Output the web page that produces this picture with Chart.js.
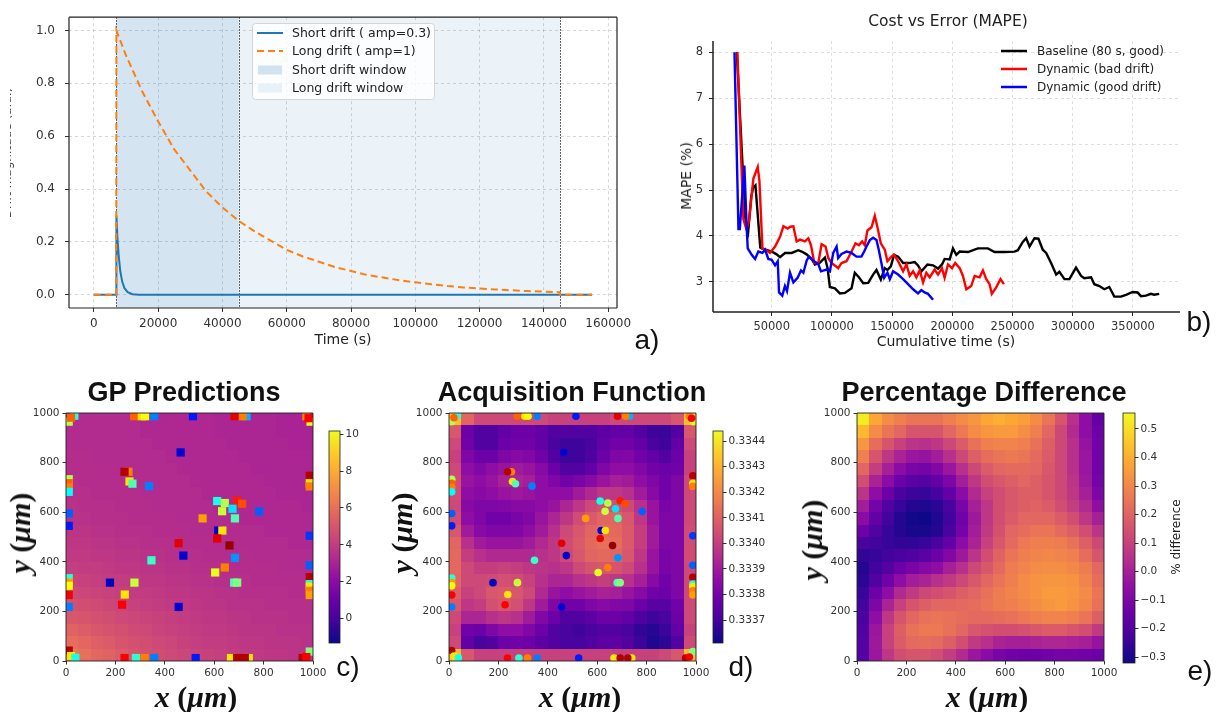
<!DOCTYPE html>
<html>
<head>
<meta charset="utf-8">
<script src="https://cdn.jsdelivr.net/npm/chart.js@4.4.1/dist/chart.umd.min.js"></script>
<style>
body{margin:0;width:1220px;height:712px;background:#fff;position:relative;overflow:hidden;font-family:"DejaVu Sans",sans-serif;color:#222}
canvas{position:absolute}
.t{position:absolute;white-space:nowrap;transform:translate(-50%,-50%);line-height:1}
.rot{transform:translate(-50%,-50%) rotate(-90deg)}
.clip{position:absolute;overflow:hidden}
.ttl{font:bold 27px "Liberation Sans",Arial,sans-serif;color:#111}
.mat{font:bold 30px "Liberation Serif",serif;color:#111}
.mat i{font-style:italic}
.lab{font:28px "Liberation Sans",Arial,sans-serif;color:#111}
</style>
</head>
<body>
<canvas id="drift" style="left:0;top:0" width="660" height="340"></canvas>
<canvas id="cost" style="left:660px;top:28px" width="540" height="307"></canvas>
<canvas id="gp" style="left:20px;top:400px" width="320" height="285"></canvas>
<canvas id="gpBar" style="left:320px;top:420px" width="60" height="235"></canvas>
<canvas id="acq" style="left:403px;top:400px" width="320" height="285"></canvas>
<canvas id="acqBar" style="left:704px;top:420px" width="75" height="235"></canvas>
<canvas id="diff" style="left:810px;top:400px" width="320" height="285"></canvas>
<canvas id="diffBar" style="left:1114px;top:402px" width="60" height="272"></canvas>

<div class="clip" style="left:10px;top:0;width:5px;height:300px"><div class="t rot" style="left:-3px;top:153px;font-size:12px;color:#444">Drift magnitude (a.u.)</div></div>
<div class="t" style="left:343px;top:339px;font-size:14px">Time (s)</div>
<div class="t lab" style="left:647px;top:340px">a)</div>

<div class="t" style="left:948px;top:22px;font-size:15.5px">Cost vs Error (MAPE)</div>
<div class="t rot" style="left:686px;top:176px;font-size:14px">MAPE (%)</div>
<div class="t" style="left:946px;top:341px;font-size:14px">Cumulative time (s)</div>
<div class="t lab" style="left:1199px;top:322px">b)</div>

<div class="t ttl" style="left:184px;top:392px">GP Predictions</div>
<div class="t ttl" style="left:572px;top:392px">Acquisition Function</div>
<div class="t ttl" style="left:984px;top:392px">Percentage Difference</div>

<div class="t mat" style="left:196px;top:697px"><i>x</i> (<i>μm</i>)</div>
<div class="t mat" style="left:580px;top:697px"><i>x</i> (<i>μm</i>)</div>
<div class="t mat" style="left:987px;top:697px"><i>x</i> (<i>μm</i>)</div>
<div class="t mat rot" style="left:20px;top:533px"><i>y</i> (<i>μm</i>)</div>
<div class="clip" style="left:389px;top:440px;width:40px;height:200px"><div class="t mat rot" style="left:13px;top:93px"><i>y</i> (<i>μm</i>)</div></div>
<div class="t mat rot" style="left:812px;top:540px"><i>y</i> (<i>μm</i>)</div>
<div class="t rot" style="left:1176px;top:537px;font-size:12px">% difference</div>

<div class="t lab" style="left:348px;top:667px">c)</div>
<div class="t lab" style="left:741px;top:667px">d)</div>
<div class="t lab" style="left:1200px;top:671px">e)</div>

<script>
// ---------- a) drift profiles ----------
const shortTime = [0, 6950, 7000, 7300, 7700, 8200, 8800, 9500, 10500, 12000, 14000, 155000];
const shortDrift = [0, 0, 0.30, 0.22, 0.15, 0.09, 0.05, 0.025, 0.01, 0.002, 0, 0];
const longTime = [0, 6950, 7000, 10000, 15000, 20000, 25000, 30000, 35000, 40000, 45000, 50000,
  55000, 60000, 65000, 70000, 75000, 80000, 85000, 90000, 95000, 100000, 105000, 110000,
  115000, 120000, 125000, 130000, 135000, 140000, 145000, 145050, 155000];
const longDrift = [0, 0, 1.0, 0.905, 0.77, 0.655, 0.55, 0.47, 0.39, 0.33, 0.28, 0.24,
  0.205, 0.17, 0.145, 0.125, 0.105, 0.09, 0.075, 0.065, 0.055, 0.047, 0.04, 0.033,
  0.028, 0.024, 0.02, 0.017, 0.014, 0.012, 0.01, 0, 0];
const shortWindow = [7000, 45000];
const longWindow = [7000, 145000];
const driftTicksX = [0, 20000, 40000, 60000, 80000, 100000, 120000, 140000, 160000];
const driftTicksY = [0, 0.2, 0.4, 0.6, 0.8, 1.0];

// ---------- b) cost vs error ----------
const baseTime = [21000, 28000, 30500, 33000, 34500, 36500, 38000, 40500, 41700, 50000, 54100, 56900,
  61000, 66600, 72100, 74900, 79000, 83100, 85900, 90000, 94200, 96400, 98300, 102500, 106600,
  110800, 116300, 119000, 122400, 126000, 130100, 134200, 137000, 140600, 143900, 146100, 148900,
  151600, 155000, 159100, 163800, 168800, 171500, 174300, 179300, 184000, 188100, 191400, 193600,
  197800, 200500, 203300, 206100, 213000, 221200, 229500, 235100, 243300, 251600, 254400, 258500,
  261300, 264100, 268200, 271500, 275100, 277900, 282000, 286200, 288900, 293100, 297200, 302700,
  306900, 309600, 315200, 317900, 322100, 326200, 330300, 334500, 340000, 344200, 349700, 353800,
  356600, 360700, 364900, 367600, 371800];
const baseMape = [8.0, 4.4, 4.1, 4.85, 5.05, 5.1, 4.6, 3.75, 3.73, 3.66, 3.6, 3.54,
  3.63, 3.63, 3.69, 3.66, 3.6, 3.5, 3.38, 3.42, 3.53, 3.3, 2.89, 2.86, 2.75,
  2.76, 2.86, 3.2, 3.1, 2.97, 2.98, 3.16, 3.26, 3.05, 3.3, 3.26, 3.34,
  3.59, 3.55, 3.41, 3.41, 3.43, 3.36, 3.23, 3.38, 3.36, 3.29, 3.38, 3.5,
  3.49, 3.73, 3.59, 3.66, 3.65, 3.73, 3.73, 3.65, 3.65, 3.66, 3.69, 3.87,
  3.95, 3.77, 3.95, 3.94, 3.7, 3.63, 3.41, 3.16, 3.22, 3.06, 3.06, 3.31,
  3.13, 3.08, 3.1, 2.95, 2.91, 2.84, 2.89, 2.68, 2.68, 2.72, 2.78, 2.77,
  2.69, 2.7, 2.74, 2.72, 2.74];
const badTime = [21500, 26500, 29000, 31000, 34800, 38400, 39800, 42300, 45000, 48600, 52800, 56900,
  59700, 63300, 65400, 68000, 70700, 73500, 77600, 80400, 82600, 85400, 88700, 91400, 94700,
  97000, 99700, 103300, 105200, 108000, 112100, 116300, 119600, 122400, 125100, 127300, 129500,
  132900, 135600, 137800, 140600, 143900, 146100, 149400, 151600, 155000, 159100, 161900, 164600,
  167400, 170100, 172900, 175700, 178400, 181200, 185300, 188100, 191400, 193600, 196400, 199700,
  202400, 206100, 208800, 211600, 215700, 218500, 222600, 225400, 228200, 230900, 232800, 236400,
  240000, 242800];
const badMape = [8.0, 4.36, 4.15, 4.3, 5.25, 5.5, 5.2, 3.73, 3.7, 3.63, 3.77, 3.98,
  4.21, 4.16, 4.2, 4.21, 3.88, 3.92, 3.88, 3.95, 3.8, 3.41, 3.41, 3.82, 3.77,
  3.52, 3.41, 3.34, 3.3, 3.41, 3.45, 3.66, 3.84, 3.8, 3.88, 3.8, 4.12,
  4.19, 4.44, 4.19, 3.84, 3.7, 3.45, 3.55, 3.59, 3.45, 3.23, 3.38, 3.13,
  3.23, 3.1, 3.25, 2.99, 3.2, 3.1, 3.27, 3.16, 3.3, 3.09, 3.38, 3.3,
  3.41, 3.3, 3.13, 2.84, 2.91, 3.13, 3.1, 3.25, 3.06, 2.95, 2.74, 2.88,
  3.06, 2.95];
const goodTime = [19100, 22400, 23500, 27300, 29300, 30100, 33400, 36200, 38900, 42300, 44500, 47200,
  50000, 52800, 55000, 56100, 58800, 61000, 62700, 65200, 68000, 71500, 74300, 76300, 79000,
  80900, 84500, 88700, 90900, 95600, 98300, 101100, 103900, 105200, 108000, 112100, 116300,
  120400, 124500, 126800, 128700, 131500, 134200, 137000, 138900, 141100, 143400, 146100, 148100,
  150800, 155000, 159100, 163200, 167400, 171500, 174300, 177000, 179800, 184000];
const goodMape = [8.0, 4.15, 4.15, 5.53, 4.15, 3.73, 3.59, 3.5, 3.66, 3.63, 3.7, 3.5,
  3.48, 3.36, 3.45, 2.77, 2.7, 2.91, 2.8, 3.2, 2.99, 3.09, 3.25, 3.2, 3.46,
  3.55, 3.46, 3.39, 3.23, 3.27, 3.23, 3.63, 3.77, 3.52, 3.61, 3.66, 3.63,
  3.55, 3.55, 3.66, 3.77, 3.91, 3.96, 3.91, 3.7, 3.41, 3.09, 3.2, 3.06,
  3.23, 3.16, 3.06, 2.95, 2.84, 2.75, 2.82, 2.77, 2.74, 2.61];
const costTicksX = [50000, 100000, 150000, 200000, 250000, 300000, 350000];
const costTicksY = [3, 4, 5, 6, 7, 8];

// ---------- c) d) e) maps, 20x20 cells, rows listed from y=1000 down to y=0 ----------
const mapExtent = [0, 1000];
const mapTicks = [0, 200, 400, 600, 800, 1000];
const gpGrid = [
  [3.3,3.3,3.3,3.3,3.3,3.3,3.2,3.2,3.2,3.2,3.2,3.2,3.1,3.1,3.1,3.1,3.1,3.0,3.0,3.0],
  [3.3,3.3,3.3,3.3,3.3,3.3,3.2,3.2,3.2,3.2,3.2,3.2,3.1,3.1,3.1,3.1,3.1,3.0,3.0,3.0],
  [3.3,3.3,3.3,3.3,3.3,3.3,3.3,3.2,3.2,3.2,3.2,3.2,3.2,3.1,3.1,3.1,3.1,3.1,3.0,3.0],
  [3.4,3.4,3.3,3.3,3.3,3.3,3.3,3.3,3.2,3.2,3.2,3.2,3.2,3.2,3.1,3.1,3.1,3.1,3.1,3.1],
  [3.4,3.4,3.4,3.4,3.3,3.3,3.3,3.3,3.3,3.2,3.2,3.2,3.2,3.2,3.2,3.1,3.1,3.1,3.1,3.1],
  [3.5,3.4,3.4,3.4,3.4,3.3,3.3,3.3,3.3,3.3,3.2,3.2,3.2,3.2,3.2,3.2,3.1,3.1,3.1,3.1],
  [3.5,3.5,3.4,3.4,3.4,3.4,3.3,3.3,3.3,3.3,3.3,3.2,3.2,3.2,3.2,3.2,3.2,3.1,3.1,3.1],
  [3.6,3.5,3.5,3.5,3.4,3.4,3.4,3.3,3.3,3.3,3.3,3.3,3.2,3.2,3.2,3.2,3.2,3.2,3.2,3.1],
  [3.6,3.6,3.5,3.5,3.5,3.4,3.4,3.4,3.4,3.3,3.3,3.3,3.3,3.3,3.2,3.2,3.2,3.2,3.2,3.2],
  [3.7,3.7,3.6,3.6,3.5,3.5,3.5,3.4,3.4,3.4,3.3,3.3,3.3,3.3,3.3,3.3,3.2,3.2,3.2,3.2],
  [3.8,3.8,3.7,3.7,3.6,3.6,3.5,3.5,3.5,3.4,3.4,3.4,3.3,3.3,3.3,3.3,3.3,3.3,3.2,3.2],
  [3.9,3.9,3.8,3.8,3.7,3.7,3.6,3.6,3.5,3.5,3.5,3.4,3.4,3.4,3.4,3.3,3.3,3.3,3.3,3.3],
  [4.1,4.0,4.0,3.9,3.8,3.8,3.7,3.7,3.6,3.6,3.5,3.5,3.5,3.4,3.4,3.4,3.4,3.3,3.3,3.3],
  [4.3,4.2,4.1,4.0,4.0,3.9,3.8,3.8,3.7,3.7,3.6,3.6,3.5,3.5,3.5,3.4,3.4,3.4,3.4,3.4],
  [4.5,4.4,4.3,4.2,4.1,4.0,4.0,3.9,3.8,3.8,3.7,3.7,3.6,3.6,3.5,3.5,3.5,3.5,3.4,3.4],
  [4.8,4.7,4.6,4.4,4.3,4.2,4.1,4.0,3.9,3.9,3.8,3.7,3.7,3.6,3.6,3.6,3.5,3.5,3.5,3.5],
  [5.1,5.0,4.8,4.7,4.5,4.4,4.3,4.2,4.1,4.0,3.9,3.8,3.8,3.7,3.7,3.6,3.6,3.6,3.5,3.5],
  [5.5,5.3,5.1,4.9,4.8,4.6,4.5,4.3,4.2,4.1,4.0,3.9,3.9,3.8,3.7,3.7,3.7,3.6,3.6,3.6],
  [5.9,5.7,5.4,5.2,5.0,4.8,4.7,4.5,4.4,4.2,4.1,4.0,4.0,3.9,3.8,3.8,3.7,3.7,3.7,3.6],
  [6.3,6.0,5.7,5.5,5.2,5.0,4.8,4.7,4.5,4.4,4.3,4.2,4.1,4.0,3.9,3.9,3.8,3.8,3.7,3.7]
];
const acqGrid = [
  [0.33432,0.33411,0.33403,0.33403,0.33403,0.33403,0.33403,0.33403,0.33401,0.33401,0.33401,0.33401,0.33401,0.33403,0.33403,0.33403,0.33403,0.33403,0.33407,0.33432],
  [0.33407,0.33378,0.33373,0.33373,0.33376,0.33378,0.33378,0.33376,0.33373,0.33373,0.33373,0.33373,0.33375,0.33376,0.33376,0.33373,0.33369,0.33368,0.33373,0.33407],
  [0.33403,0.33379,0.33373,0.33373,0.33378,0.33379,0.33379,0.33376,0.33371,0.33369,0.33369,0.33371,0.33376,0.33379,0.33379,0.33376,0.33371,0.33369,0.33376,0.33403],
  [0.33401,0.33382,0.33378,0.33378,0.33382,0.33384,0.33383,0.33379,0.33373,0.33369,0.33369,0.33372,0.33378,0.33382,0.33383,0.33379,0.33376,0.33373,0.33378,0.33401],
  [0.33403,0.33386,0.33383,0.33386,0.33388,0.33390,0.33388,0.33384,0.33378,0.33373,0.33373,0.33376,0.33382,0.33386,0.33386,0.33383,0.33379,0.33378,0.33379,0.33401],
  [0.33404,0.33388,0.33386,0.33388,0.33392,0.33393,0.33391,0.33386,0.33382,0.33379,0.33381,0.33384,0.33388,0.33391,0.33390,0.33386,0.33382,0.33379,0.33382,0.33403],
  [0.33404,0.33386,0.33384,0.33386,0.33388,0.33389,0.33388,0.33386,0.33386,0.33386,0.33390,0.33394,0.33398,0.33398,0.33396,0.33390,0.33384,0.33379,0.33382,0.33403],
  [0.33403,0.33384,0.33382,0.33382,0.33383,0.33384,0.33384,0.33386,0.33388,0.33393,0.33398,0.33403,0.33405,0.33405,0.33403,0.33396,0.33388,0.33381,0.33382,0.33403],
  [0.33404,0.33386,0.33382,0.33379,0.33379,0.33381,0.33383,0.33388,0.33393,0.33398,0.33404,0.33408,0.33411,0.33411,0.33407,0.33398,0.33388,0.33382,0.33382,0.33403],
  [0.33407,0.33390,0.33384,0.33382,0.33382,0.33383,0.33386,0.33390,0.33396,0.33403,0.33407,0.33411,0.33413,0.33412,0.33408,0.33400,0.33390,0.33382,0.33382,0.33404],
  [0.33411,0.33396,0.33390,0.33388,0.33388,0.33388,0.33390,0.33394,0.33398,0.33404,0.33408,0.33412,0.33414,0.33413,0.33408,0.33400,0.33390,0.33382,0.33382,0.33404],
  [0.33412,0.33400,0.33396,0.33394,0.33394,0.33394,0.33394,0.33396,0.33398,0.33403,0.33407,0.33411,0.33412,0.33411,0.33407,0.33398,0.33388,0.33381,0.33382,0.33404],
  [0.33412,0.33403,0.33400,0.33400,0.33401,0.33400,0.33398,0.33397,0.33396,0.33398,0.33403,0.33406,0.33407,0.33406,0.33403,0.33396,0.33388,0.33381,0.33382,0.33403],
  [0.33411,0.33403,0.33403,0.33404,0.33405,0.33404,0.33401,0.33396,0.33393,0.33393,0.33396,0.33398,0.33400,0.33398,0.33396,0.33391,0.33384,0.33379,0.33382,0.33403],
  [0.33409,0.33401,0.33403,0.33407,0.33408,0.33407,0.33403,0.33394,0.33388,0.33386,0.33388,0.33390,0.33392,0.33391,0.33388,0.33384,0.33379,0.33378,0.33382,0.33403],
  [0.33407,0.33398,0.33400,0.33405,0.33407,0.33405,0.33398,0.33390,0.33382,0.33379,0.33379,0.33382,0.33384,0.33383,0.33382,0.33378,0.33374,0.33374,0.33379,0.33403],
  [0.33403,0.33393,0.33393,0.33396,0.33398,0.33396,0.33390,0.33383,0.33378,0.33373,0.33373,0.33375,0.33378,0.33378,0.33376,0.33372,0.33369,0.33371,0.33378,0.33403],
  [0.33401,0.33379,0.33378,0.33382,0.33386,0.33386,0.33382,0.33378,0.33373,0.33371,0.33369,0.33371,0.33373,0.33373,0.33371,0.33367,0.33365,0.33368,0.33376,0.33401],
  [0.33403,0.33376,0.33371,0.33373,0.33378,0.33379,0.33378,0.33375,0.33373,0.33371,0.33371,0.33373,0.33375,0.33375,0.33373,0.33368,0.33364,0.33366,0.33373,0.33403],
  [0.33432,0.33407,0.33401,0.33401,0.33401,0.33401,0.33401,0.33401,0.33401,0.33401,0.33401,0.33401,0.33401,0.33401,0.33401,0.33401,0.33401,0.33403,0.33407,0.33432]
];
const diffGrid = [
  [0.53,0.38,0.31,0.28,0.25,0.25,0.25,0.28,0.31,0.34,0.38,0.40,0.38,0.36,0.31,0.25,0.16,0.05,-0.06,-0.16],
  [0.42,0.31,0.25,0.21,0.16,0.16,0.16,0.21,0.26,0.31,0.34,0.35,0.35,0.32,0.28,0.21,0.12,0.03,-0.06,-0.14],
  [0.34,0.23,0.16,0.10,0.06,0.05,0.07,0.12,0.18,0.24,0.28,0.29,0.29,0.28,0.24,0.19,0.12,0.05,-0.04,-0.13],
  [0.28,0.16,0.07,0.01,-0.03,-0.04,-0.01,0.05,0.12,0.19,0.23,0.25,0.26,0.25,0.22,0.18,0.12,0.05,-0.03,-0.13],
  [0.21,0.09,0.00,-0.07,-0.11,-0.12,-0.09,-0.03,0.05,0.12,0.18,0.21,0.22,0.22,0.21,0.17,0.12,0.05,-0.03,-0.13],
  [0.14,0.01,-0.07,-0.14,-0.18,-0.19,-0.16,-0.10,-0.01,0.07,0.14,0.17,0.19,0.21,0.19,0.16,0.12,0.06,-0.02,-0.12],
  [0.06,-0.06,-0.14,-0.21,-0.24,-0.25,-0.22,-0.16,-0.07,0.03,0.10,0.14,0.17,0.19,0.19,0.16,0.12,0.07,0.00,-0.10],
  [-0.01,-0.12,-0.20,-0.25,-0.28,-0.29,-0.27,-0.21,-0.11,0.00,0.07,0.14,0.17,0.19,0.20,0.18,0.14,0.09,0.03,-0.06],
  [-0.07,-0.16,-0.23,-0.28,-0.31,-0.32,-0.29,-0.23,-0.13,-0.02,0.07,0.14,0.18,0.21,0.21,0.21,0.18,0.14,0.07,0.00],
  [-0.14,-0.20,-0.25,-0.28,-0.30,-0.30,-0.28,-0.21,-0.12,-0.01,0.08,0.15,0.21,0.23,0.25,0.25,0.22,0.19,0.14,0.06],
  [-0.21,-0.23,-0.25,-0.26,-0.26,-0.25,-0.21,-0.16,-0.07,0.01,0.10,0.17,0.22,0.26,0.28,0.28,0.27,0.24,0.19,0.12],
  [-0.26,-0.25,-0.23,-0.21,-0.20,-0.18,-0.14,-0.09,-0.02,0.06,0.14,0.20,0.25,0.28,0.29,0.30,0.29,0.28,0.23,0.16],
  [-0.28,-0.23,-0.19,-0.14,-0.11,-0.08,-0.06,0.00,0.05,0.12,0.17,0.22,0.27,0.29,0.31,0.32,0.32,0.30,0.27,0.21],
  [-0.27,-0.20,-0.13,-0.06,-0.01,0.01,0.05,0.08,0.12,0.17,0.21,0.25,0.28,0.31,0.33,0.34,0.34,0.33,0.29,0.23],
  [-0.25,-0.14,-0.06,0.03,0.08,0.12,0.14,0.16,0.19,0.21,0.24,0.27,0.29,0.31,0.33,0.35,0.35,0.34,0.31,0.25],
  [-0.23,-0.10,0.01,0.10,0.16,0.19,0.21,0.21,0.22,0.23,0.25,0.27,0.28,0.30,0.32,0.34,0.35,0.33,0.30,0.24],
  [-0.21,-0.06,0.07,0.16,0.21,0.24,0.25,0.24,0.23,0.22,0.22,0.23,0.24,0.26,0.28,0.29,0.29,0.28,0.25,0.19],
  [-0.20,-0.03,0.10,0.19,0.24,0.26,0.26,0.24,0.21,0.17,0.15,0.14,0.14,0.15,0.17,0.18,0.18,0.16,0.14,0.08],
  [-0.19,-0.02,0.10,0.18,0.22,0.23,0.22,0.19,0.14,0.08,0.05,0.01,0.00,0.00,0.01,0.02,0.02,0.01,0.00,-0.04],
  [-0.19,-0.03,0.07,0.14,0.16,0.16,0.14,0.09,0.03,-0.03,-0.07,-0.11,-0.13,-0.14,-0.14,-0.13,-0.12,-0.12,-0.13,-0.14]
];
const gpRange = [-1.33, 10.18];
const acqRange = [0.33361, 0.33444];
const diffRange = [-0.32, 0.556];
const gpBarTicks = [0, 2, 4, 6, 8, 10];
const acqBarTicks = [0.3337, 0.3338, 0.3339, 0.3340, 0.3341, 0.3342, 0.3343, 0.3344];
const diffBarTicks = [-0.3, -0.2, -0.1, 0.0, 0.1, 0.2, 0.3, 0.4, 0.5];

// measured sample locations (µm) and their colour level (0..1 on jet)
const sampleX = [464, 253, 237, 257, 269, 336, 612, 643, 693, 713, 674, 632, 782, 553, 684, 616, 633, 612, 662, 456,
  475, 684, 346, 643, 604, 178, 277, 681, 693, 238, 227, 456,
  276, 307, 320, 357, 514, 731, 715, 682, 11, 34, 20, 990, 973, 982,
  11, 11, 11, 11, 11, 11, 11, 11, 11, 11, 11, 11, 20, 38,
  987, 987, 987, 987, 987, 987, 987, 987, 987, 987, 987, 958, 973,
  237, 283, 318, 357, 525, 668, 693, 740, 724];
const sampleY = [841, 763, 763, 724, 715, 705, 645, 637, 646, 634, 614, 604, 603, 575, 575, 526, 526, 494, 466, 475,
  425, 416, 406, 377, 357, 316, 316, 316, 316, 268, 227, 218,
  987, 987, 987, 987, 987, 987, 987, 987, 965, 989, 981, 965, 987, 979,
  733, 717, 700, 682, 595, 545, 334, 316, 303, 266, 218, 42, 20, 13,
  747, 717, 704, 505, 386, 338, 310, 300, 283, 266, 38, 12, 16,
  12, 12, 12, 12, 12, 12, 12, 12, 12];
const sampleLevel = [0.08, 0.75, 0.95, 0.65, 0.45, 0.25, 0.4, 0.55, 0.85, 0.8, 0.35, 0.57, 0.22, 0.72, 0.45, 0.08, 0.65, 0.9, 0.98, 0.9,
  0.08, 0.27, 0.43, 0.75, 0.6, 0.06, 0.57, 0.45, 0.5, 0.65, 0.88, 0.08,
  0.78, 0.65, 0.62, 0.25, 0.15, 0.3, 0.75, 0.9, 0.55, 0.42, 0.78, 0.6, 0.75, 0.88,
  0.55, 0.78, 0.75, 0.38, 0.22, 0.15, 0.42, 0.72, 0.62, 0.88, 0.25, 0.95, 0.65, 0.4,
  0.95, 0.65, 0.75, 0.18, 0.22, 0.95, 0.4, 0.65, 0.75, 0.72, 0.5, 0.95, 0.88,
  0.88, 0.42, 0.75, 0.25, 0.15, 0.65, 0.95, 0.65, 0.95];

// ---------- colour maps ----------
const plasmaStops = ['#0d0887', '#41049d', '#6a00a8', '#8f0da4', '#b12a90', '#cc4778',
  '#e16462', '#f2844b', '#fca636', '#fcce25', '#f0f921'];
function hexRgb(h) {
  return [parseInt(h.slice(1, 3), 16), parseInt(h.slice(3, 5), 16), parseInt(h.slice(5, 7), 16)];
}
function plasma(t) {
  t = Math.min(1, Math.max(0, t));
  const p = t * 10, i = Math.min(9, Math.floor(p)), f = p - i;
  const a = hexRgb(plasmaStops[i]), b = hexRgb(plasmaStops[i + 1]);
  return 'rgb(' + a.map((v, k) => Math.round(v + (b[k] - v) * f)).join(',') + ')';
}
function jet(t) {
  const c = v => Math.round(255 * Math.min(1, Math.max(0, v)));
  return 'rgb(' + c(1.5 - Math.abs(4 * t - 3)) + ',' + c(1.5 - Math.abs(4 * t - 2)) + ',' + c(1.5 - Math.abs(4 * t - 1)) + ')';
}

// ---------- helpers ----------
Chart.defaults.font.family = '"DejaVu Sans", sans-serif';
Chart.defaults.color = '#333';

function fixWidth(w) { return s => { s.width = w; }; }
function fixHeight(h) { return s => { s.height = h; }; }
function useTicks(values) { return s => { s.ticks = values.map(v => ({ value: v })); }; }
function pairs(xs, ys) { return xs.map((x, i) => ({ x: x, y: ys[i] })); }

function framePlugin(sides, color, width) {
  return {
    id: 'frame',
    afterDatasetsDraw(chart) {
      const { ctx, chartArea: a } = chart;
      ctx.save();
      ctx.strokeStyle = color;
      ctx.lineWidth = width;
      ctx.beginPath();
      if (sides.includes('l')) { ctx.moveTo(a.left, a.top); ctx.lineTo(a.left, a.bottom); }
      if (sides.includes('b')) { ctx.moveTo(a.left, a.bottom); ctx.lineTo(a.right, a.bottom); }
      if (sides.includes('r')) { ctx.moveTo(a.right, a.top); ctx.lineTo(a.right, a.bottom); }
      if (sides.includes('t')) { ctx.moveTo(a.left, a.top); ctx.lineTo(a.right, a.top); }
      ctx.stroke();
      ctx.restore();
    }
  };
}

function heatPlugin(grid, range) {
  return {
    id: 'heat',
    beforeDatasetsDraw(chart) {
      const { ctx, scales: { x, y } } = chart;
      const rows = grid.length, cols = grid[0].length;
      const span = mapExtent[1] - mapExtent[0];
      grid.forEach((row, r) => row.forEach((v, c) => {
        const x0 = Math.round(x.getPixelForValue(mapExtent[0] + c * span / cols));
        const x1 = Math.round(x.getPixelForValue(mapExtent[0] + (c + 1) * span / cols));
        const y0 = Math.round(y.getPixelForValue(mapExtent[1] - r * span / rows));
        const y1 = Math.round(y.getPixelForValue(mapExtent[1] - (r + 1) * span / rows));
        ctx.fillStyle = plasma((v - range[0]) / (range[1] - range[0]));
        ctx.fillRect(x0, y0, x1 - x0, y1 - y0);
      }));
    }
  };
}

function barPlugin(range) {
  return {
    id: 'cbar',
    beforeDatasetsDraw(chart) {
      const { ctx, chartArea: a, scales: { y } } = chart;
      for (let py = Math.floor(a.top); py < a.bottom; py++) {
        const v = y.getValueForPixel(py + 0.5);
        ctx.fillStyle = plasma((v - range[0]) / (range[1] - range[0]));
        ctx.fillRect(a.left, py, a.right - a.left, 1);
      }
      ctx.save();
      ctx.strokeStyle = '#222';
      ctx.lineWidth = 0.8;
      ctx.strokeRect(a.left, a.top, a.right - a.left, a.bottom - a.top);
      ctx.restore();
    }
  };
}

const tickFont = { size: 12 };

// ---------- a) ----------
const windowsPlugin = {
  id: 'windows',
  beforeDatasetsDraw(chart) {
    const { ctx, chartArea: a, scales: { x } } = chart;
    ctx.save();
    ctx.fillStyle = 'rgba(31,119,180,0.09)';
    ctx.fillRect(x.getPixelForValue(longWindow[0]), a.top,
      x.getPixelForValue(longWindow[1]) - x.getPixelForValue(longWindow[0]), a.bottom - a.top);
    ctx.fillStyle = 'rgba(31,119,180,0.11)';
    ctx.fillRect(x.getPixelForValue(shortWindow[0]), a.top,
      x.getPixelForValue(shortWindow[1]) - x.getPixelForValue(shortWindow[0]), a.bottom - a.top);
    ctx.strokeStyle = '#333';
    ctx.lineWidth = 1;
    ctx.setLineDash([1.5, 1.5]);
    [shortWindow[0], shortWindow[1], longWindow[1]].forEach(v => {
      const px = Math.round(x.getPixelForValue(v)) + 0.5;
      ctx.beginPath();
      ctx.moveTo(px, a.top);
      ctx.lineTo(px, a.bottom);
      ctx.stroke();
    });
    ctx.restore();
  }
};

const legendA = {
  id: 'legendA',
  afterDraw(chart) {
    const ctx = chart.ctx;
    const ds = chart.data.datasets;
    ctx.save();
    ctx.beginPath();
    ctx.roundRect(252.5, 23.5, 182, 76, 3);
    ctx.fillStyle = 'rgba(255,255,255,0.8)';
    ctx.fill();
    ctx.strokeStyle = '#d4d4d4';
    ctx.lineWidth = 1;
    ctx.stroke();
    const rows = [33, 51, 70, 88];
    ctx.lineWidth = 2;
    ctx.strokeStyle = ds[0].borderColor;
    ctx.beginPath(); ctx.moveTo(257, rows[0]); ctx.lineTo(283, rows[0]); ctx.stroke();
    ctx.strokeStyle = ds[1].borderColor;
    ctx.setLineDash(ds[1].borderDash);
    ctx.beginPath(); ctx.moveTo(257, rows[1]); ctx.lineTo(283, rows[1]); ctx.stroke();
    ctx.setLineDash([]);
    ctx.fillStyle = 'rgba(31,119,180,0.19)';
    ctx.fillRect(258, rows[2] - 4.5, 24, 9);
    ctx.fillStyle = 'rgba(31,119,180,0.09)';
    ctx.fillRect(258, rows[3] - 4.5, 24, 9);
    ctx.fillStyle = '#222';
    ctx.font = '12.5px "DejaVu Sans"';
    ctx.textBaseline = 'middle';
    [ds[0].label, ds[1].label, 'Short drift window', 'Long drift window'].forEach((s, i) => {
      ctx.fillText(s, 292, rows[i] + 1);
    });
    ctx.restore();
  }
};

new Chart(document.getElementById('drift'), {
  type: 'line',
  data: {
    datasets: [
      { label: 'Short drift ( amp=0.3)', data: pairs(shortTime, shortDrift), borderColor: '#1f77b4',
        borderWidth: 2, pointRadius: 0, order: 2 },
      { label: 'Long drift ( amp=1)', data: pairs(longTime, longDrift), borderColor: '#ff7f0e',
        borderWidth: 2, borderDash: [7, 4], pointRadius: 0, order: 1 }
    ]
  },
  options: {
    responsive: false, animation: false, events: [],
    layout: { padding: { left: 0, top: 15, right: 43, bottom: 7 } },
    plugins: { legend: { display: false }, tooltip: { enabled: false } },
    scales: {
      x: {
        type: 'linear', min: -7750, max: 162750, afterFit: fixHeight(25),
        afterBuildTicks: useTicks(driftTicksX),
        ticks: { autoSkip: false, maxRotation: 0, padding: 5,
          font: tickFont, color: '#333', callback: v => String(v) },
        grid: { color: 'rgba(0,0,0,0.16)', tickColor: '#333', tickLength: 4 },
        border: { display: false, dash: [3, 3] }
      },
      y: {
        min: -0.05, max: 1.05, afterFit: fixWidth(69),
        afterBuildTicks: useTicks(driftTicksY),
        ticks: { autoSkip: false, padding: 10, font: tickFont, color: '#333',
          callback: v => v.toFixed(1) },
        grid: { color: 'rgba(0,0,0,0.16)', tickColor: '#333', tickLength: 4 },
        border: { display: false, dash: [3, 3] }
      }
    }
  },
  plugins: [windowsPlugin, framePlugin('lbrt', '#222', 1.2), legendA]
});

// ---------- b) ----------
const legendB = {
  id: 'legendB',
  afterDraw(chart) {
    const ctx = chart.ctx;
    const ds = chart.data.datasets;
    const rows = [23, 41, 59];
    ctx.save();
    ctx.font = '12px "DejaVu Sans"';
    ctx.textBaseline = 'middle';
    ds.forEach((d, i) => {
      ctx.strokeStyle = d.borderColor;
      ctx.lineWidth = 2.5;
      ctx.beginPath(); ctx.moveTo(341, rows[i]); ctx.lineTo(367, rows[i]); ctx.stroke();
      ctx.fillStyle = '#222';
      ctx.fillText(d.label, 377, rows[i] + 1);
    });
    ctx.restore();
  }
};

const gridB = { color: 'rgba(0,0,0,0.13)', tickColor: '#222', tickLength: 4 };
new Chart(document.getElementById('cost'), {
  type: 'line',
  data: {
    datasets: [
      { label: 'Baseline (80 s, good)', data: pairs(baseTime, baseMape), borderColor: '#000000',
        borderWidth: 2.4, pointRadius: 0, order: 3 },
      { label: 'Dynamic (bad drift)', data: pairs(badTime, badMape), borderColor: '#ff0000',
        borderWidth: 2.4, pointRadius: 0, order: 2 },
      { label: 'Dynamic (good drift)', data: pairs(goodTime, goodMape), borderColor: '#0000ff',
        borderWidth: 2.4, pointRadius: 0, order: 1 }
    ]
  },
  options: {
    responsive: false, animation: false, events: [],
    layout: { padding: { left: 0, top: 7, right: 20, bottom: 3 } },
    plugins: { legend: { display: false }, tooltip: { enabled: false } },
    scales: {
      x: {
        type: 'linear', min: 1258, max: 389040, afterFit: fixHeight(20),
        afterBuildTicks: useTicks(costTicksX),
        ticks: { autoSkip: false, maxRotation: 0, padding: 4,
          font: { size: 11.5 }, color: '#333', callback: v => String(v) },
        grid: gridB, border: { display: false, dash: [3, 3] }
      },
      y: {
        min: 2.345, max: 8.245, afterFit: fixWidth(53),
        afterBuildTicks: useTicks(costTicksY),
        ticks: { autoSkip: false, padding: 6, font: { size: 11.5 }, color: '#333', callback: v => String(v) },
        grid: gridB, border: { display: false, dash: [3, 3] }
      }
    }
  },
  plugins: [framePlugin('lb', '#222', 1.5), legendB]
});

// ---------- c) d) e) maps ----------
function mapAxes(yWidth) {
  const common = {
    min: mapExtent[0], max: mapExtent[1],
    afterBuildTicks: useTicks(mapTicks),
    ticks: { autoSkip: false, maxRotation: 0, font: { size: 10.5 }, color: '#333', callback: v => String(v) },
    grid: { drawOnChartArea: false, tickColor: '#333', tickLength: 3.5 },
    border: { display: false }
  };
  return {
    x: Object.assign({}, common, { type: 'linear', afterFit: fixHeight(20),
      ticks: Object.assign({}, common.ticks, { padding: 2 }) }),
    y: Object.assign({}, common, { afterFit: fixWidth(yWidth),
      ticks: Object.assign({}, common.ticks, { padding: 3 }) })
  };
}

function sampleSet(style, radius) {
  return {
    data: pairs(sampleX, sampleY),
    pointStyle: style, pointRadius: radius, borderWidth: 0,
    backgroundColor: sampleLevel.map(jet), pointBorderWidth: 0
  };
}

function mapChart(id, grid, range, datasets, yWidth) {
  return new Chart(document.getElementById(id), {
    type: 'scatter',
    data: { datasets: datasets },
    options: {
      responsive: false, animation: false, events: [],
      layout: { padding: { left: 0, top: 13, right: 320 - yWidth - 247, bottom: 4 } },
      plugins: { legend: { display: false }, tooltip: { enabled: false } },
      scales: mapAxes(yWidth)
    },
    plugins: [heatPlugin(grid, range), framePlugin('lbrt', '#222', 0.9)]
  });
}

function colorBar(id, range, tickValues, yWidth, padBottom, fmt) {
  return new Chart(document.getElementById(id), {
    type: 'scatter',
    data: { datasets: [] },
    options: {
      responsive: false, animation: false, events: [],
      layout: { padding: { left: 9, top: 11, right: 0, bottom: padBottom } },
      plugins: { legend: { display: false }, tooltip: { enabled: false } },
      scales: {
        x: { display: false, min: 0, max: 1 },
        y: {
          position: 'right', min: range[0], max: range[1], afterFit: fixWidth(yWidth),
          afterBuildTicks: useTicks(tickValues),
          ticks: { autoSkip: false, padding: 2, font: { size: 10.5 }, color: '#333', callback: fmt },
          grid: { drawOnChartArea: false, tickColor: '#333', tickLength: 3.5 },
          border: { display: false }
        }
      }
    },
    plugins: [barPlugin(range)]
  });
}

mapChart('gp', gpGrid, gpRange, [sampleSet('rect', 5.8)], 46);
colorBar('gpBar', gpRange, gpBarTicks, 40, 12, v => String(v));

mapChart('acq', acqGrid, acqRange, [sampleSet('circle', 3.8)], 46);
colorBar('acqBar', acqRange, acqBarTicks, 56, 12, v => v.toFixed(4));

mapChart('diff', diffGrid, diffRange, [], 47);
colorBar('diffBar', diffRange, diffBarTicks, 39, 11,
  v => (v < -1e-9 ? '\u2212' + Math.abs(v).toFixed(1) : Math.abs(v).toFixed(1)));
</script>
</body>
</html>
